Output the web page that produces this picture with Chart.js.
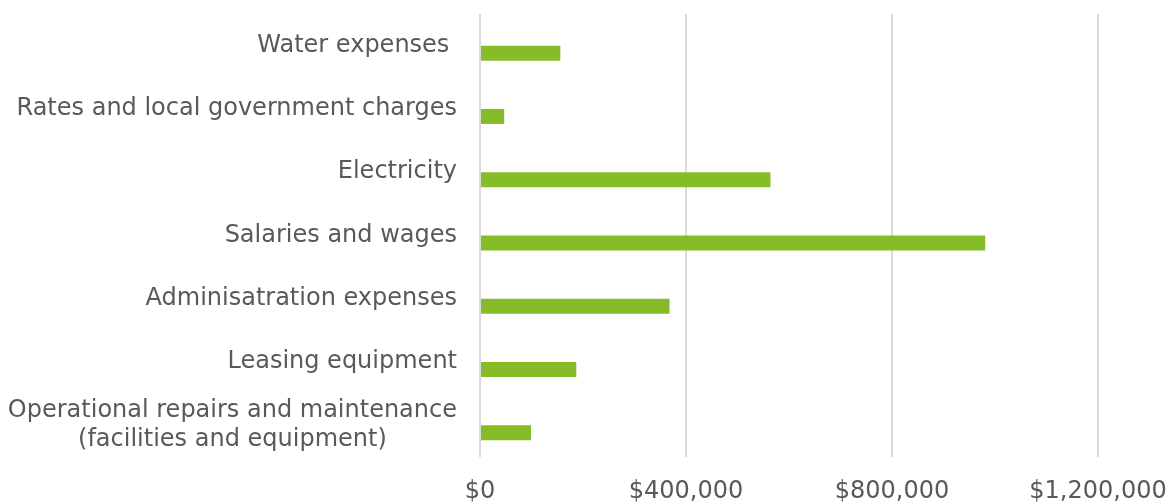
<!DOCTYPE html>
<html>
<head>
<meta charset="utf-8">
<script src="https://cdn.jsdelivr.net/npm/chart.js@4/dist/chart.umd.min.js"></script>
<style>
  html, body { margin: 0; padding: 0; background: #fff; }
  #wrap { width: 1174px; height: 502px; position: relative; }
</style>
</head>
<body>
<div id="wrap"><canvas id="bar-chart"></canvas></div>
<script>
var categories = [
    'Water expenses ',
    'Rates and local government charges',
    'Electricity',
    'Salaries and wages',
    'Adminisatration expenses',
    'Leasing equipment',
    ['Operational repairs and maintenance', '(facilities and equipment)']
];
var costs = [156000, 47000, 564000, 981000, 368000, 187000, 99000];
var emptySeries = [null, null, null, null, null, null, null];
var tickValues = [0, 400000, 800000, 1200000];

var textColor = '#595959';
var fontFamily = '"DejaVu Sans", Verdana, sans-serif';

// y labels drawn by hand so a wrapped label stays centred on itself
var yLabels = {
    id: 'yLabels',
    afterDraw: function (chart) {
        var ctx = chart.ctx;
        var scale = chart.scales.y;
        var right = scale.right - 23;
        ctx.save();
        ctx.font = '24px ' + fontFamily;
        ctx.fillStyle = textColor;
        ctx.textBaseline = 'middle';
        categories.forEach(function (lab, i) {
            var y = scale.getPixelForValue(i);
            var lines = Array.isArray(lab) ? lab : [lab];
            var widest = Math.max.apply(null, lines.map(function (l) { return ctx.measureText(l).width; }));
            var lh = 29;
            var top = y - (lines.length - 1) * lh / 2;
            ctx.textAlign = 'center';
            lines.forEach(function (l, k) {
                ctx.fillText(l, right - widest / 2, top + k * lh);
            });
        });
        ctx.restore();
    }
};

var ctx = document.getElementById('bar-chart').getContext('2d');
var chart = new Chart(ctx, {
    type: 'bar',
    data: {
        labels: categories,
        datasets: [{
            label: 'blank',
            data: emptySeries,
            backgroundColor: 'rgba(0,0,0,0)'
        }, {
            label: 'Cost',
            data: costs,
            backgroundColor: '#86BC28',
            borderWidth: 0
        }]
    },
    options: {
        indexAxis: 'y',
        responsive: true,
        maintainAspectRatio: false,
        animation: false,
        layout: { padding: { top: 14, right: 76, left: 0, bottom: 0 } },
        datasets: {
            bar: { categoryPercentage: 0.474, barPercentage: 1 }
        },
        plugins: {
            legend: { display: false },
            tooltip: { enabled: false }
        },
        scales: {
            x: {
                min: 0,
                max: 1200000,
                afterBuildTicks: function (s) {
                    s.ticks = tickValues.map(function (v) { return { value: v }; });
                },
                afterFit: function (s) {
                    s.height = 45;
                    s.paddingLeft = 0;
                    s.paddingRight = 0;
                },
                border: { display: false },
                grid: { color: '#d9d9d9', lineWidth: 2, drawTicks: false },
                ticks: {
                    padding: 20,
                    color: textColor,
                    font: { family: fontFamily, size: 24 },
                    maxRotation: 0,
                    callback: function (v) { return '$' + Number(v).toLocaleString('en-US'); }
                }
            },
            y: {
                border: { display: false },
                grid: { display: false },
                ticks: { display: false },
                afterFit: function (s) { s.width = 480; }
            }
        }
    },
    plugins: [yLabels]
});
</script>
</body>
</html>
